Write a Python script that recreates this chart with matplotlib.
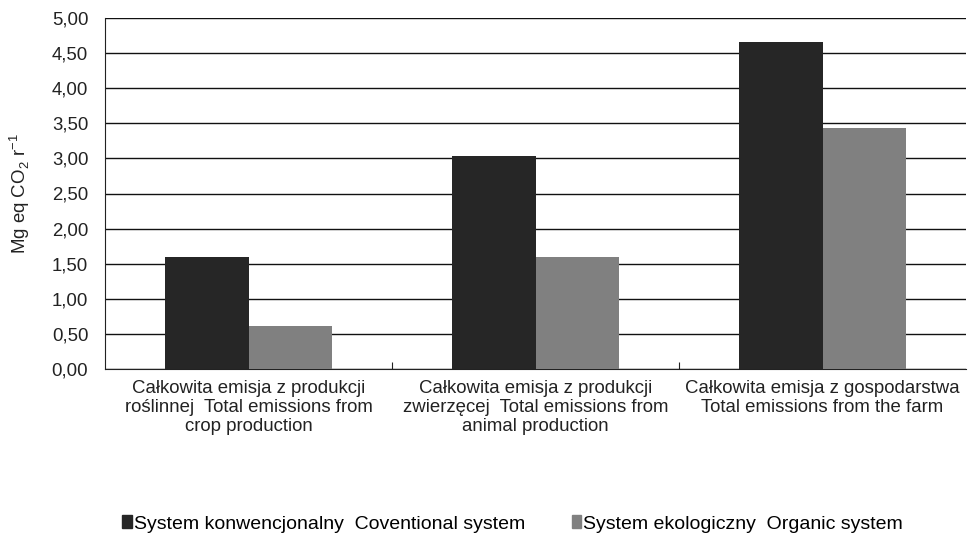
import numpy as np
import matplotlib.pyplot as plt
from matplotlib.patches import Patch
from matplotlib.ticker import FuncFormatter

plt.rcParams['font.family'] = ['Liberation Sans', 'DejaVu Sans']
plt.rcParams['mathtext.fontset'] = 'custom'
plt.rcParams['mathtext.rm'] = 'Liberation Sans'

categories = [
    "Całkowita emisja z produkcji\nroślinnej  Total emissions from\ncrop production",
    "Całkowita emisja z produkcji\nzwierzęcej  Total emissions from\nanimal production",
    "Całkowita emisja z gospodarstwa\nTotal emissions from the farm",
]
conventional = [1.60, 3.04, 4.66]
organic = [0.61, 1.60, 3.44]
series_names = ["System konwencjonalny  Coventional system",
                "System ekologiczny  Organic system"]
colors = ["#262626", "#808080"]
txt = "#222222"
fs = 13.4

fig = plt.figure(figsize=(9.69, 5.34), dpi=100)
ax = fig.add_axes([105 / 969, 1 - 369 / 534, 861 / 969, 351 / 534])

x = np.arange(len(categories))
w = 0.29
ax.bar(x - w / 2, conventional, w, color=colors[0], zorder=3)
ax.bar(x + w / 2, organic, w, color=colors[1], zorder=3)

ax.set_xlim(-0.5, 2.5)
ax.set_ylim(0, 5)
ax.set_yticks(np.arange(0, 5.01, 0.5))
ax.yaxis.set_major_formatter(FuncFormatter(lambda v, p: f"{v:.2f}".replace(".", ",")))
ax.yaxis.grid(True, color="#111111", linewidth=1.0, zorder=0)
ax.tick_params(axis="y", length=0, labelsize=fs, pad=12, colors=txt)

# category boundary ticks pointing inside
ax.set_xticks([0.5, 1.5])
ax.set_xticklabels([])
ax.tick_params(axis="x", direction="in", length=5, color=txt)
for xi, lab in zip(x, categories):
    ax.text(xi, -0.15, lab, ha="center", va="top", fontsize=fs,
            color=txt, linespacing=1.17, transform=ax.transData)

for side in ["top", "right"]:
    ax.spines[side].set_visible(False)
ax.spines["left"].set_color(txt)
ax.spines["bottom"].set_color(txt)

ax.set_ylabel("Mg eq CO$_{\\mathrm{2}}$ r$^{\\mathrm{-1}}$", fontsize=fs, color=txt, labelpad=14)

handles = [Patch(color=c) for c in colors]
fig.legend(handles, series_names, loc="center", bbox_to_anchor=(0.529, 1 - 524 / 534),
           ncol=2, frameon=False, fontsize=14, handlelength=0.5, handleheight=0.6,
           handletextpad=0.1, columnspacing=2.4)

fig.savefig("out.png", dpi=100)
